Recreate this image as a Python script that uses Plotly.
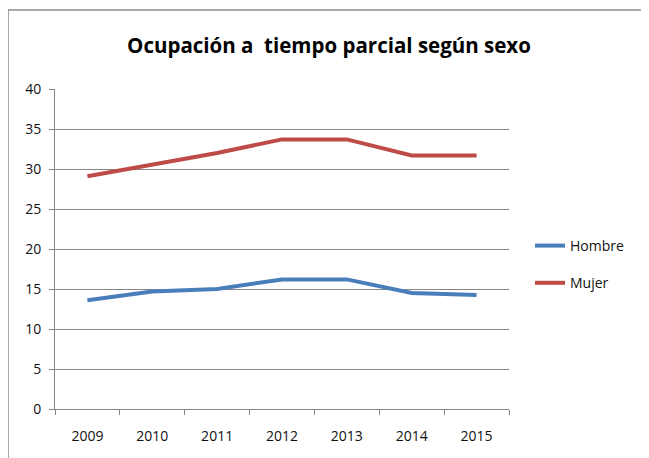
import plotly.graph_objects as go

years = ["2009", "2010", "2011", "2012", "2013", "2014", "2015"]
hombre = [13.6, 14.7, 15.0, 16.2, 16.2, 14.5, 14.25]
mujer = [29.1, 30.5, 32.0, 33.7, 33.7, 31.7, 31.7]
y_ticks = [0, 5, 10, 15, 20, 25, 30, 35, 40]

OFF = 8  # page body margin
W, H = 649 - OFF, 458 - OFF
# plot area in screenshot pixels
X0, X1, Y0, Y1 = 55, 509, 89, 409
L, R, T, B = X0 - OFF, W - (X1 - OFF), Y0 - OFF, H - (Y1 - OFF)
pw, ph = W - L - R, H - T - B

def px_x(p):
    return (p - OFF - L) / pw

def px_y(p):
    return (H - B - (p - OFF)) / ph

fig = go.Figure()
fig.add_trace(go.Scatter(x=years, y=hombre, name="Hombre", mode="lines", legendgroup="h",
                         line=dict(color="#4A7EBB", width=4)))
fig.add_trace(go.Scatter(x=years, y=mujer, name="Mujer", mode="lines", legendgroup="m",
                         line=dict(color="#BE4B48", width=4)))

frame = dict(color="#8c8c8c", width=1.5)
fig.update_layout(
    width=W, height=H,
    margin=dict(l=L, r=R, t=T, b=B, autoexpand=False),
    paper_bgcolor="white", plot_bgcolor="white",
    title=dict(text="<b>Ocupación a  tiempo parcial según sexo</b>",
               x=(329 - OFF) / W, xanchor="center", y=1 - (46 - OFF) / H, yanchor="middle",
               font=dict(family="Open Sans", size=20.5, color="#000000")),
    font=dict(family="Open Sans", size=14, color="#111111"),
    legend=dict(x=px_x(530), y=px_y(230), xanchor="left", yanchor="top",
                font=dict(size=14, color="#111111"), tracegroupgap=16,
                traceorder="grouped", itemwidth=30, bgcolor="rgba(0,0,0,0)"),
    showlegend=True,
    xaxis=dict(type="category", tickson="boundaries", ticks="outside", ticklen=5,
               tickcolor="#868686", showline=True, linecolor="#868686", linewidth=1,
               showgrid=False, range=[-0.5, 6.5], automargin=False,
               ticklabelstandoff=14, tickfont=dict(size=14, color="#111111")),
    yaxis=dict(range=[0, 40], tickvals=y_ticks, ticks="outside", ticklen=5,
               tickcolor="#868686", showline=True, linecolor="#868686", linewidth=1,
               showgrid=True, gridcolor="#868686", gridwidth=1, zeroline=False,
               automargin=False, ticklabelstandoff=5,
               tickfont=dict(size=14, color="#111111")),
    shapes=[
        dict(type="line", xref="paper", yref="paper",
             x0=px_x(8), x1=px_x(8), y0=px_y(458), y1=px_y(10), line=frame, layer="below"),
        dict(type="line", xref="paper", yref="paper",
             x0=px_x(8), x1=px_x(649), y0=px_y(10), y1=px_y(10), line=frame, layer="below"),
    ],
)

fig.write_html("out.html", config={"displayModeBar": False})
